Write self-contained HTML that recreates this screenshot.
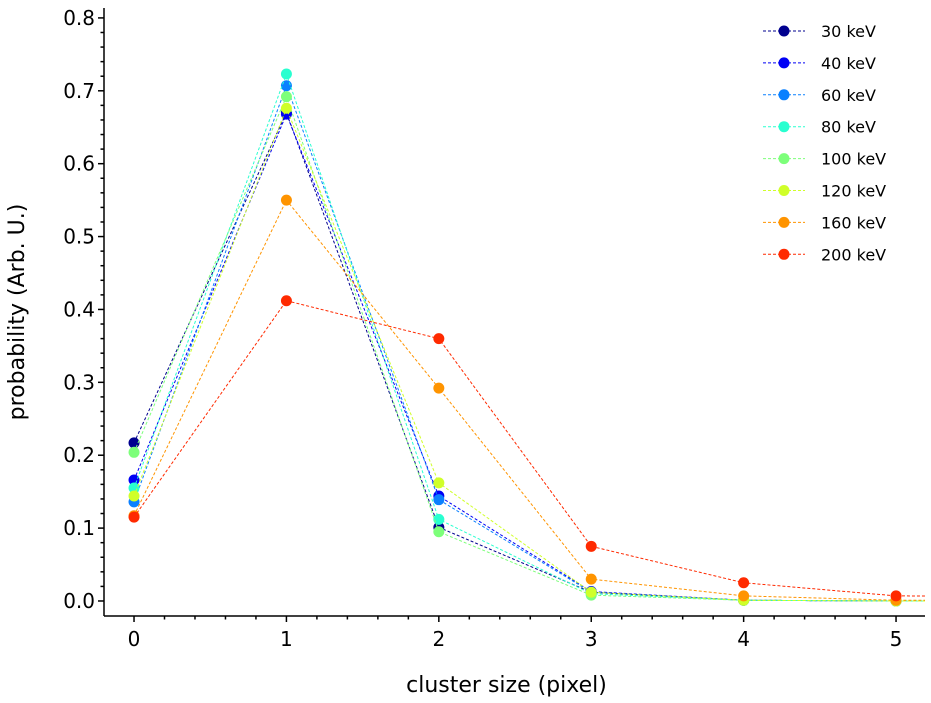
<!DOCTYPE html>
<html><head><meta charset="utf-8"><style>body{margin:0;background:#fff}svg{display:block;font-family:"DejaVu Sans","Liberation Sans",sans-serif}</style></head>
<body>
<svg id="chart" width="931" height="703"></svg>
<script>
const categories=[0,1,2,3,4,5,6];
const seriesNames=["30 keV","40 keV","60 keV","80 keV","100 keV","120 keV","160 keV","200 keV"];
const seriesColors=["#00008f","#0000f5","#0a80ff","#29ffd0","#7dff7a","#d0ff29","#ff9400","#ff2a00"];
const s30=[0.217,0.670,0.101,0.012,0.001,0.000,0.000];
const s40=[0.166,0.668,0.144,0.013,0.001,0.000,0.000];
const s60=[0.136,0.707,0.139,0.012,0.001,0.000,0.000];
const s80=[0.155,0.723,0.112,0.010,0.001,0.000,0.000];
const s100=[0.204,0.692,0.095,0.008,0.001,0.000,0.000];
const s120=[0.144,0.676,0.162,0.012,0.001,0.000,0.000];
const s160=[0.117,0.550,0.292,0.030,0.007,0.001,0.001];
const s200=[0.115,0.412,0.360,0.075,0.025,0.007,0.006];
const seriesValues=[s30,s40,s60,s80,s100,s120,s160,s200];
const yTicks=["0.0","0.1","0.2","0.3","0.4","0.5","0.6","0.7","0.8"];
const xTicks=["0","1","2","3","4","5"];

const L=104,R=925,T=8,B=616;
const xMin=-0.197,xMax=5.19,yMin=-0.0206,yMax=0.8136;
const X=v=>L+(v-xMin)/(xMax-xMin)*(R-L);
const Y=v=>B-(v-yMin)/(yMax-yMin)*(B-T);
const svg=document.getElementById('chart');
const NS='http://www.w3.org/2000/svg';
function mk(t,a,p){const e=document.createElementNS(NS,t);for(const k in a)e.setAttribute(k,a[k]);(p||svg).appendChild(e);return e;}
const defs=mk('defs',{});const cp=mk('clipPath',{id:'c'},defs);mk('rect',{x:L,y:T-6,width:R-L,height:B-T+6},cp);
const plot=mk('g',{'clip-path':'url(#c)'});


seriesValues.forEach((vals,i)=>{
  const g=mk('g',{},plot);
  
  
  const pts=vals.map((v,j)=>X(categories[j])+','+Y(v)).join(' ');
  mk('polyline',{points:pts,fill:'none',stroke:seriesColors[i],'stroke-width':1,'stroke-dasharray':'3,2'},g);
  vals.forEach((v,j)=>{const c=mk('circle',{cx:X(categories[j]),cy:Y(v),r:5.5,fill:seriesColors[i]},g);
    
    });
});
const ax=mk('g',{stroke:'#000','stroke-width':1.5,fill:'none'});


mk('line',{x1:L,y1:T,x2:L,y2:B},ax);mk('line',{x1:L,y1:B,x2:R,y2:B},ax);
yTicks.forEach(t=>{const v=parseFloat(t),y=Y(v);mk('line',{x1:L-6,y1:y,x2:L,y2:y},ax);
  const tx=mk('text',{x:L-9,y:y+7,'text-anchor':'end','font-size':20,fill:'#000'});tx.textContent=t;
  
  });
for(let k=0;k<=40;k++){const v=k*0.02;if(k%5)mk('line',{x1:L-3.5,y1:Y(v),x2:L,y2:Y(v)},ax);}
xTicks.forEach(t=>{const v=parseFloat(t),x=X(v);mk('line',{x1:x,y1:B,x2:x,y2:B+6},ax);
  const tx=mk('text',{x:x,y:B+30,'text-anchor':'middle','font-size':20,fill:'#000'});tx.textContent=t;
  
  });
for(let k=-1;k<=26;k++){const v=k*0.2;if(k%5&&X(v)>=L&&X(v)<=R)mk('line',{x1:X(v),y1:B,x2:X(v),y2:B+3.5},ax);}
const xl=mk('text',{x:(L+R)/2-8,y:692,'text-anchor':'middle','font-size':22,fill:'#000'});xl.textContent='cluster size (pixel)';


const yl=mk('text',{x:0,y:0,'text-anchor':'middle','font-size':22,fill:'#000',transform:'translate(24,312) rotate(-90)'});yl.textContent='probability (Arb. U.)';


const lg=mk('g',{});


seriesNames.forEach((n,i)=>{const y=31+i*31.9;const g=mk('g',{},lg);
  
  
  mk('line',{x1:763,y1:y,x2:805,y2:y,stroke:seriesColors[i],'stroke-dasharray':'3,2'},g);
  mk('circle',{cx:784,cy:y,r:5.5,fill:seriesColors[i]},g);
  const t=mk('text',{x:821,y:y+6,'font-size':16,fill:'#000'},g);t.textContent=n;});
</script>
</body></html>
